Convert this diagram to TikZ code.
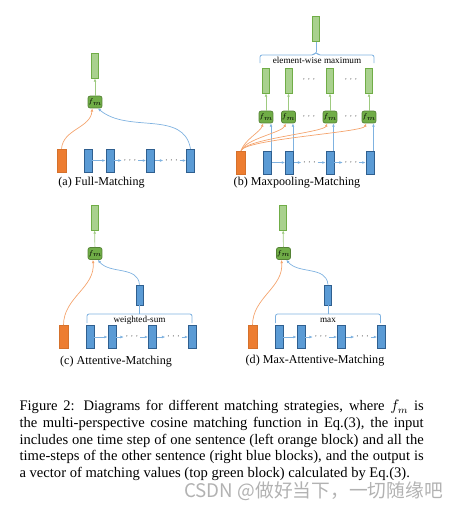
\documentclass[tikz,border=0pt]{standalone}
\usepackage{fontspec}
\setmainfont{Liberation Serif}
\newfontfamily\cjkfont{Noto Sans CJK SC}
\usetikzlibrary{arrows.meta}
\definecolor{qorange}{HTML}{ED7D31}
\definecolor{pblue}{HTML}{5B9BD5}
\definecolor{pborder}{HTML}{2F5F8F}
\definecolor{dgreen}{HTML}{70AD47}
\definecolor{lgreen}{HTML}{A9D18E}
\definecolor{oline}{HTML}{F4A46E}
\definecolor{bline}{HTML}{7FB2E0}

\begin{document}
\begin{tikzpicture}[x=0.72pt,y=-0.72pt,
  blk/.style={draw,inner sep=0pt,line width=0.5pt},
  qblk/.style={blk,fill=qorange,draw=qorange!90!black,minimum width=6.5pt,minimum height=16.5pt},
  pblk/.style={blk,fill=pblue,draw=pborder,minimum width=5.8pt,minimum height=16.5pt},
  attblk/.style={pblk,minimum width=5pt,minimum height=14.4pt},
  outbar/.style={blk,fill=lgreen,draw=dgreen,minimum width=5pt,minimum height=18pt},
  fmbox/.style={blk,fill=dgreen,draw=dgreen!75!black,rounded corners=1.5pt,
    minimum width=10pt,minimum height=8.6pt,font=\fontsize{5.5}{6}\selectfont},
  dots/.style={inner xsep=1pt,inner ysep=0pt,font=\fontsize{6}{6}\selectfont},
  tip/.style={-{Latex[length=2.4pt,width=2pt]}},
  barr/.style={tip,draw=bline,line width=0.5pt},
  oarr/.style={tip,draw=oline,line width=0.5pt},
  garr/.style={tip,draw=lgreen!80!dgreen,line width=0.5pt},
  bracket/.style={draw=bline,line width=0.6pt,rounded corners=1.5pt},
  blab/.style={inner sep=0pt,anchor=base,font=\fontsize{6.6}{7}\selectfont},
  sub/.style={inner sep=0pt,font=\fontsize{8.7}{10}\selectfont}]
  \useasboundingbox (0,0) rectangle (465,507);

  % input rows: orange block and blue time-steps
  \foreach \s/\qx/\qy in {a/61.5/160.5,b/241/162.5,c/63.5/337,d/252.5/337}{
    \node[qblk] (\s-q) at (\qx,\qy) {};
    \foreach \i/\dx in {1/26.5,2/48.5,3/89,4/129}
      \node[pblk] (\s-p\i) at (\qx+\dx,\qy) {};
    \node[dots] (\s-d1) at (\qx+68.5,\qy) {$\cdots$};
    \node[dots] (\s-d2) at (\qx+110,\qy) {$\cdots$};
    \draw[barr] (\s-p1) -- (\s-p2);
    \draw[barr] (\s-p2) -- (\s-d1);
    \draw[barr] (\s-d1) -- (\s-p3);
    \draw[barr] (\s-p3) -- (\s-d2);
    \draw[barr] (\s-d2) -- (\s-p4);
  }

  % (a) full matching
  \node[outbar] (a-out) at (95,65.5) {};
  \node[fmbox] (a-fm) at (95,102) {$f_m$};
  \draw[garr] (a-fm) -- (a-out);
  \draw[oarr] (a-q.north) to[out=85,in=-95] ([xshift=-2pt]a-fm.south);
  \draw[barr] (a-p4.north) to[out=100,in=-40] ([xshift=2pt]a-fm.south);
  \node[sub] (a-lab) at (101.5,183) {(a) Full-Matching};

  % (b) maxpooling matching
  \node[outbar] (b-top) at (316,29) {};
  \foreach \i/\x in {1/266,2/288.5,3/330,4/369}{
    \node[outbar] (b-o\i) at (\x,80.5) {};
    \node[fmbox] (b-f\i) at (\x,117) {$f_m$};
    \draw[garr] (b-f\i) -- (b-o\i);
    \draw[barr] ([xshift=2.5pt]b-p\i.north) -- ([xshift=2.5pt]b-p\i.north |- b-f\i.south);
    \draw[oarr] (b-q.north) to[out=70,in=-110,out distance=9pt,in distance=7pt] ([xshift=-2pt]b-f\i.south);
  }
  \node[dots] (b-od1) at (309,80) {$\cdots$};
  \node[dots] (b-od2) at (351,80) {$\cdots$};
  \node[dots] (b-fd1) at (309,117) {$\cdots$};
  \node[dots] (b-fd2) at (351,117) {$\cdots$};
  \coordinate (b-tipc) at (316,52);
  \draw[bracket] (260,63) -- (260,55) -- (314,55) -- (b-tipc) -- (318,55) -- (374,55) -- (374,63);
  \draw[draw=bline,line width=0.5pt] (b-tipc) -- (b-top);
  \node[blab] (b-blab) at (317,63.5) {element-wise maximum};
  \node[sub] (b-lab) at (297,183) {(b) Maxpooling-Matching};

  % (c) and (d) attentive matching
  \foreach \s/\ox/\txt/\cap in {c/0/weighted-sum/(c) Attentive-Matching,
                                d/188.5/max/(d) Max-Attentive-Matching}{
    \node[outbar] (\s-out) at (94.5+\ox,217.5) {};
    \node[fmbox] (\s-fm) at (95+\ox,253.5) {$f_m$};
    \node[attblk] (\s-att) at (139.5+\ox,295) {};
    \draw[garr] (\s-fm) -- (\s-out);
    \coordinate (\s-tipc) at (139.5+\ox,314);
    \draw[bracket] (87+\ox,323) -- (87+\ox,314) -- (192+\ox,314) -- (192+\ox,323);
    \draw[draw=bline,line width=0.5pt] (\s-tipc) -- (\s-att);
    \node[blab] (\s-blab) at (139.5+\ox,322.5) {\txt};
    \draw[oarr] (\s-q.north) to[out=90,in=-85] ([xshift=-1.5pt]\s-fm.south);
    \draw[barr] (\s-att.north) to[out=95,in=-50] ([xshift=2pt]\s-fm.south);
  }
  \node[sub] (c-lab) at (116,362) {(c) Attentive-Matching};
  \node[sub] (d-lab) at (315,361) {(d) Max-Attentive-Matching};

  % caption
  \node[anchor=north west,inner sep=0pt,text width=291pt,align=justify,
    font=\fontsize{10.5}{12}\selectfont] (cap) at (19.3,400) {Figure 2: Diagrams for different matching strategies, where $f_m$ is\linebreak
    the multi-perspective cosine matching function in Eq.(3), the input\linebreak
    includes one time step of one sentence (left orange block) and all the\linebreak
    time-steps of the other sentence (right blue blocks), and the output is\linebreak
    a vector of matching values (top green block) calculated by Eq.(3).};
  \node[text=black!30,inner sep=0pt,font=\cjkfont\fontsize{13.5}{14}\selectfont] (mark) at (313.5,491) {CSDN @做好当下，一切随缘吧};
\end{tikzpicture}
\end{document}
